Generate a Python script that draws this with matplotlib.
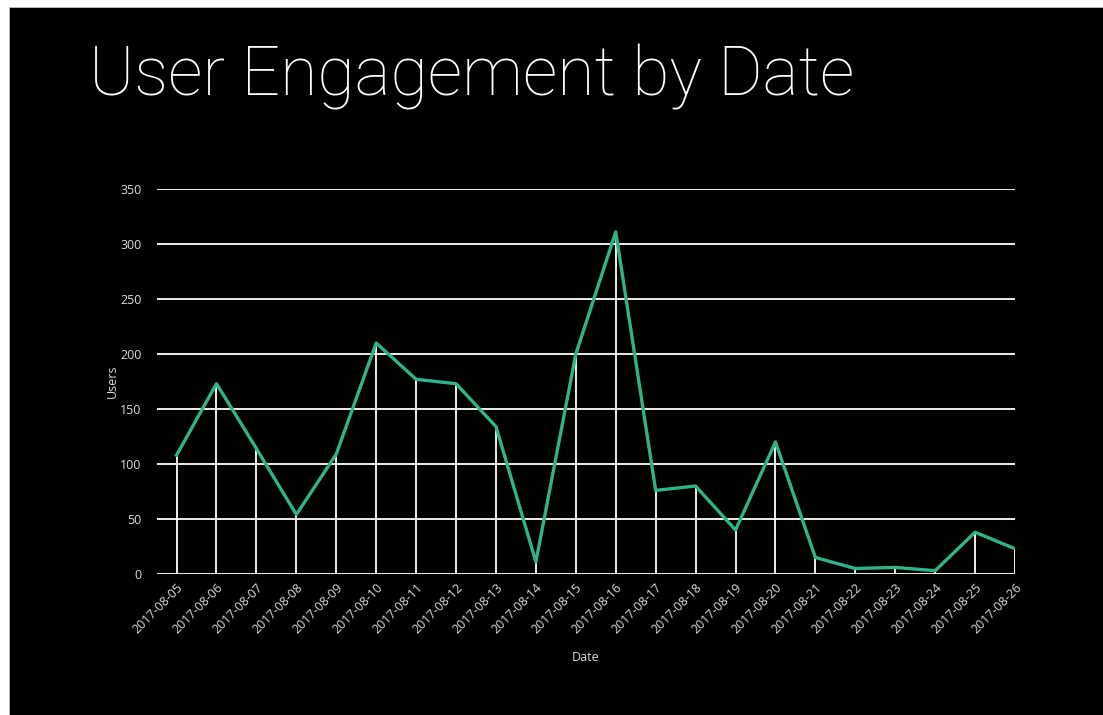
import matplotlib
matplotlib.use('Agg')
import matplotlib.pyplot as plt
from matplotlib.patches import Rectangle

# data
dates = ['2017-08-05', '2017-08-06', '2017-08-07', '2017-08-08', '2017-08-09',
         '2017-08-10', '2017-08-11', '2017-08-12', '2017-08-13', '2017-08-14',
         '2017-08-15', '2017-08-16', '2017-08-17', '2017-08-18', '2017-08-19',
         '2017-08-20', '2017-08-21', '2017-08-22', '2017-08-23', '2017-08-24',
         '2017-08-25', '2017-08-26']
users = [108, 173, 114, 54, 109, 210, 177, 173, 134, 11, 200, 311, 76, 80,
         40, 120, 15, 5, 6, 3, 38, 23]
y_ticks = [0, 50, 100, 150, 200, 250, 300, 350]

W, H = 1103, 715
GREEN = '#2fb38c'
TICK_COLOR = '#dcdcdc'

fig = plt.figure(figsize=(W / 100, H / 100), dpi=100)
fig.patch.set_facecolor('white')

# black slide background with a thin white margin top/left
fig.patches.append(Rectangle((9 / W, 0), 1 - 9 / W, 1 - 7 / H,
                             transform=fig.transFigure, facecolor='black',
                             edgecolor='#bbbbbb', linewidth=0.6, zorder=-5))

fig.text(89 / W, 1 - 95 / H, 'User Engagement by Date', color='white',
         fontsize=49, family='Roboto', fontweight='light', va='baseline')

ax = fig.add_axes([157 / W, 1 - 574 / H, (1015 - 157) / W, (574 - 189) / H])
ax.set_facecolor('black')
x = list(range(len(dates)))

# horizontal grid
for t in y_ticks:
    ax.axhline(t, color='white', linewidth=1.3, zorder=1)

# drop lines from each point
ax.vlines(x, 0, users, color='white', linewidth=1.3, zorder=2)
ax.plot(x, users, color=GREEN, linewidth=2.4, zorder=3)

ax.set_xlim(-0.49, 20.46)
ax.set_ylim(0, 350)
ax.set_yticks(y_ticks)
ax.set_xticks(x)
ax.set_xticklabels(dates, rotation=45, ha='right', rotation_mode='anchor')
for s in ax.spines.values():
    s.set_visible(False)
ax.tick_params(axis='both', length=0, colors=TICK_COLOR, labelsize=9)
ax.tick_params(axis='y', pad=11)
ax.tick_params(axis='x', pad=5)
for lbl in ax.get_xticklabels() + ax.get_yticklabels():
    lbl.set_family('Open Sans')

ax.set_ylabel('Users', color=TICK_COLOR, fontsize=9, family='Open Sans',
              labelpad=1)
ax.set_xlabel('Date', color=TICK_COLOR, fontsize=9, family='Open Sans',
              labelpad=11)

fig.savefig('out.png', dpi=100, facecolor=fig.get_facecolor())
